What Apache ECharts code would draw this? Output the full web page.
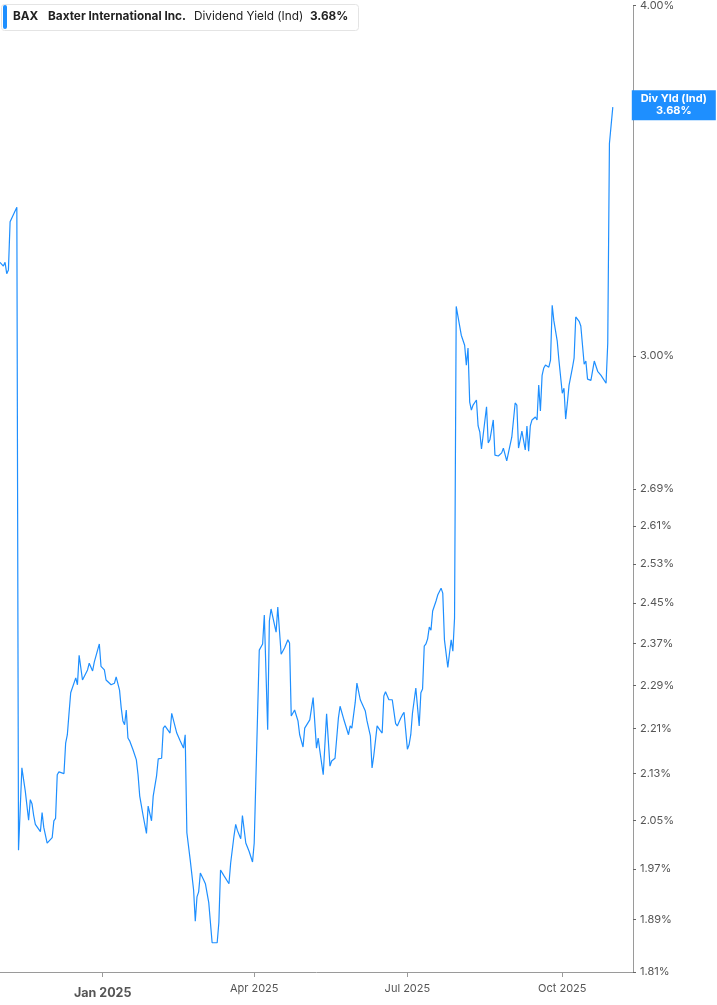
<!DOCTYPE html>
<html>
<head>
<meta charset="utf-8">
<title>BAX Dividend Yield</title>
<script src="https://cdn.jsdelivr.net/npm/echarts@6/dist/echarts.min.js"></script>
<style>
  html, body { margin: 0; padding: 0; background: #fff; }
  #chart { width: 717px; height: 1005px; }
</style>
</head>
<body>
<div id="chart"></div>
<script>
'use strict';

// trading days
const dates = [
  '2024-11-01', '2024-11-03', '2024-11-04', '2024-11-05', '2024-11-06', '2024-11-07', '2024-11-09', '2024-11-11',
  '2024-11-12', '2024-11-14', '2024-11-16', '2024-11-18', '2024-11-19', '2024-11-20', '2024-11-21', '2024-11-22',
  '2024-11-25', '2024-11-26', '2024-11-27', '2024-11-29', '2024-12-02', '2024-12-03', '2024-12-04', '2024-12-05',
  '2024-12-06', '2024-12-09', '2024-12-10', '2024-12-11', '2024-12-12', '2024-12-13', '2024-12-16', '2024-12-17',
  '2024-12-18', '2024-12-19', '2024-12-20', '2024-12-23', '2024-12-24', '2024-12-26', '2024-12-27', '2024-12-30',
  '2024-12-31', '2025-01-02', '2025-01-03', '2025-01-06', '2025-01-08', '2025-01-09', '2025-01-11', '2025-01-12',
  '2025-01-13', '2025-01-14', '2025-01-15', '2025-01-16', '2025-01-17', '2025-01-19', '2025-01-21', '2025-01-22',
  '2025-01-23', '2025-01-24', '2025-01-25', '2025-01-27', '2025-01-28', '2025-01-30', '2025-01-31', '2025-02-02',
  '2025-02-03', '2025-02-05', '2025-02-06', '2025-02-07', '2025-02-10', '2025-02-11', '2025-02-14', '2025-02-16',
  '2025-02-18', '2025-02-19', '2025-02-20', '2025-02-22', '2025-02-24', '2025-02-25', '2025-02-26', '2025-02-27',
  '2025-02-28', '2025-03-02', '2025-03-03', '2025-03-04', '2025-03-05', '2025-03-07', '2025-03-10', '2025-03-11',
  '2025-03-12', '2025-03-14', '2025-03-17', '2025-03-18', '2025-03-20', '2025-03-21', '2025-03-22', '2025-03-24',
  '2025-03-25', '2025-03-27', '2025-03-28', '2025-03-29', '2025-03-31', '2025-04-01', '2025-04-04', '2025-04-06',
  '2025-04-07', '2025-04-09', '2025-04-10', '2025-04-11', '2025-04-14', '2025-04-15', '2025-04-16', '2025-04-17',
  '2025-04-19', '2025-04-21', '2025-04-22', '2025-04-23', '2025-04-25', '2025-04-27', '2025-04-28', '2025-04-30',
  '2025-05-01', '2025-05-02', '2025-05-04', '2025-05-06', '2025-05-08', '2025-05-09', '2025-05-10', '2025-05-12',
  '2025-05-14', '2025-05-16', '2025-05-17', '2025-05-19', '2025-05-21', '2025-05-22', '2025-05-24', '2025-05-27',
  '2025-05-28', '2025-05-29', '2025-05-31', '2025-06-01', '2025-06-03', '2025-06-04', '2025-06-06', '2025-06-07',
  '2025-06-09', '2025-06-10', '2025-06-11', '2025-06-12', '2025-06-13', '2025-06-15', '2025-06-16', '2025-06-17',
  '2025-06-18', '2025-06-20', '2025-06-22', '2025-06-24', '2025-06-25', '2025-06-27', '2025-06-28', '2025-06-29',
  '2025-07-01', '2025-07-02', '2025-07-03', '2025-07-04', '2025-07-06', '2025-07-08', '2025-07-09', '2025-07-10',
  '2025-07-11', '2025-07-12', '2025-07-13', '2025-07-14', '2025-07-15', '2025-07-16', '2025-07-18', '2025-07-19',
  '2025-07-21', '2025-07-22', '2025-07-23', '2025-07-25', '2025-07-26', '2025-07-27', '2025-07-28', '2025-07-29',
  '2025-07-30', '2025-07-31', '2025-08-02', '2025-08-04', '2025-08-05', '2025-08-06', '2025-08-07', '2025-08-08',
  '2025-08-09', '2025-08-11', '2025-08-12', '2025-08-13', '2025-08-14', '2025-08-15', '2025-08-17', '2025-08-18',
  '2025-08-19', '2025-08-21', '2025-08-22', '2025-08-24', '2025-08-26', '2025-08-27', '2025-08-29', '2025-08-30',
  '2025-09-01', '2025-09-03', '2025-09-04', '2025-09-05', '2025-09-06', '2025-09-07', '2025-09-09', '2025-09-10',
  '2025-09-11', '2025-09-12', '2025-09-13', '2025-09-15', '2025-09-16', '2025-09-17', '2025-09-18', '2025-09-19',
  '2025-09-20', '2025-09-21', '2025-09-23', '2025-09-24', '2025-09-25', '2025-09-26', '2025-09-28', '2025-09-29',
  '2025-10-01', '2025-10-02', '2025-10-03', '2025-10-04', '2025-10-05', '2025-10-07', '2025-10-08', '2025-10-09',
  '2025-10-11', '2025-10-12', '2025-10-14', '2025-10-15', '2025-10-16', '2025-10-18', '2025-10-19', '2025-10-20',
  '2025-10-22', '2025-10-24', '2025-10-27', '2025-10-28', '2025-10-29', '2025-10-31'
];

// dividend yield (%)
const yields = [
  3.24, 3.23, 3.24, 3.21, 3.22, 3.35, 3.37, 3.39,
  2.00, 2.14, 2.10, 2.05, 2.085, 2.078, 2.058, 2.043,
  2.031, 2.063, 2.038, 2.012, 2.021, 2.049, 2.053, 2.128,
  2.133, 2.130, 2.184, 2.199, 2.238, 2.276, 2.304, 2.291,
  2.347, 2.346, 2.300, 2.319, 2.332, 2.317, 2.334, 2.369,
  2.326, 2.319, 2.300, 2.291, 2.294, 2.306, 2.281, 2.248,
  2.224, 2.217, 2.244, 2.193, 2.188, 2.172, 2.154, 2.128,
  2.091, 2.088, 2.058, 2.028, 2.074, 2.049, 2.091, 2.126,
  2.156, 2.157, 2.211, 2.215, 2.202, 2.238, 2.202, 2.188,
  2.175, 2.199, 2.029, 1.984, 1.936, 1.887, 1.925, 1.933,
  1.963, 1.952, 1.946, 1.947, 1.916, 1.854, 1.854, 1.885,
  1.968, 1.959, 1.946, 1.979, 2.024, 2.043, 2.033, 2.019,
  2.058, 2.012, 2.009, 1.998, 1.981, 2.012, 2.357, 2.369,
  2.426, 2.208, 2.414, 2.438, 2.392, 2.442, 2.438, 2.349,
  2.361, 2.377, 2.371, 2.233, 2.244, 2.224, 2.199, 2.177,
  2.211, 2.208, 2.226, 2.267, 2.175, 2.193, 2.170, 2.128,
  2.237, 2.143, 2.152, 2.157, 2.229, 2.251, 2.229, 2.199,
  2.215, 2.211, 2.258, 2.294, 2.263, 2.265, 2.242, 2.224,
  2.197, 2.140, 2.161, 2.163, 2.215, 2.206, 2.202, 2.270,
  2.278, 2.263, 2.263, 2.219, 2.215, 2.229, 2.235, 2.240,
  2.173, 2.181, 2.199, 2.238, 2.285, 2.215, 2.276, 2.283,
  2.365, 2.369, 2.379, 2.402, 2.396, 2.434, 2.454, 2.466,
  2.480, 2.470, 2.377, 2.324, 2.351, 2.377, 2.355, 2.420,
  3.125, 3.100, 3.052, 3.027, 2.978, 3.020, 2.889, 2.870,
  2.882, 2.894, 2.833, 2.819, 2.780, 2.812, 2.878, 2.794,
  2.801, 2.847, 2.766, 2.764, 2.771, 2.782, 2.753, 2.771,
  2.807, 2.887, 2.882, 2.782, 2.801, 2.821, 2.778, 2.833,
  2.775, 2.833, 2.847, 2.854, 2.847, 2.930, 2.868, 2.953,
  2.971, 2.978, 2.973, 2.990, 3.128, 3.088, 3.037, 2.990,
  2.910, 2.922, 2.849, 2.887, 2.929, 2.971, 2.995, 3.098,
  3.087, 3.075, 2.980, 2.988, 2.944, 2.941, 2.939, 2.988,
  2.963, 2.953, 2.934, 3.032, 3.572, 3.680
];

// axis ticks and range
const yTicks = [1.81, 1.89, 1.97, 2.05, 2.13, 2.21, 2.29, 2.37, 2.45, 2.53, 2.61, 2.69, 3.00, 4.00];
const xTicks = ['2025-01-01', '2025-04-01', '2025-07-01', '2025-10-01'];
const xRange = ['2024-11-01', '2025-11-12'];
const monthNames = ['Jan', 'Feb', 'Mar', 'Apr', 'May', 'Jun', 'Jul', 'Aug', 'Sep', 'Oct', 'Nov', 'Dec'];

const lineColor = '#1e8fff';
const fontFamily = 'Inter, "Noto Sans", sans-serif';

// date string -> ms, so the x axis can be a plain value axis with custom ticks
const toMs = (s) => new Date(s + 'T00:00:00').getTime();

const chart = echarts.init(document.getElementById('chart'));

const lastValue = yields[yields.length - 1];
const seriesData = dates.map((d, i) => [toMs(d), yields[i]]);
const lastPoint = seriesData[seriesData.length - 1];

const option = {
    animation: false,
    backgroundColor: '#fff',
    grid: {
        left: 0,
        right: 84,
        top: 2,
        bottom: 33
    },
    graphic: [{
        type: 'rect',
        left: 1,
        top: 4,
        shape: { width: 357, height: 26, r: 3 },
        style: { fill: '#fff', stroke: '#e4e4e4', lineWidth: 1 },
        z: 10
    }, {
        type: 'rect',
        left: 3,
        top: 5,
        shape: { width: 4, height: 24, r: 2 },
        style: { fill: lineColor },
        z: 11
    }, {
        type: 'text',
        left: 13,
        top: 10,
        z: 11,
        style: { text: 'BAX', font: 'bold 11.8px ' + fontFamily, fill: '#222' }
    }, {
        type: 'text',
        left: 48,
        top: 10,
        z: 11,
        style: { text: 'Baxter International Inc.', font: 'bold 11.8px ' + fontFamily, fill: '#222' }
    }, {
        type: 'text',
        left: 194,
        top: 10,
        z: 11,
        style: { text: 'Dividend Yield (Ind)', font: '11.8px ' + fontFamily, fill: '#222' }
    }, {
        type: 'text',
        left: 310,
        top: 10,
        z: 11,
        style: { text: lastValue.toFixed(2) + '%', font: 'bold 11.8px ' + fontFamily, fill: '#222' }
    }],
    xAxis: {
        type: 'value',
        min: toMs(xRange[0]),
        max: toMs(xRange[1]),
        axisLine: { show: true, lineStyle: { color: '#9a9a9a', width: 1 } },
        axisTick: {
            show: true,
            customValues: xTicks.map(toMs),
            length: 5,
            lineStyle: { color: '#9a9a9a' }
        },
        axisLabel: {
            customValues: xTicks.map(toMs),
            margin: 11,
            color: '#555',
            fontSize: 11,
            fontFamily: fontFamily,
            formatter: (value) => {
                const dt = new Date(value);
                const txt = monthNames[dt.getMonth()] + ' ' + dt.getFullYear();
                return dt.getMonth() === 0 ? '{b|' + txt + '}' : txt;
            },
            rich: {
                b: { fontWeight: 'bold', fontSize: 12.5, color: '#555', fontFamily: fontFamily, padding: [4, 0, 0, 0] }
            }
        },
        splitLine: { show: false }
    },
    yAxis: {
        type: 'log',
        logBase: 10,
        position: 'right',
        min: 1.81,
        max: 4.0,
        axisLine: { show: true, lineStyle: { color: '#9a9a9a', width: 1 } },
        axisTick: {
            show: true,
            customValues: yTicks,
            length: 3,
            lineStyle: { color: '#666' }
        },
        axisLabel: {
            customValues: yTicks,
            margin: 7,
            color: '#555',
            fontSize: 11,
            fontFamily: fontFamily,
            formatter: (value) => Number(value).toFixed(2) + '%'
        },
        splitLine: { show: false }
    },
    series: [{
        name: 'Dividend Yield (Ind)',
        type: 'line',
        showSymbol: false,
        symbol: 'none',
        lineStyle: { color: lineColor, width: 1.2 },
        data: seriesData,
        markPoint: {
            silent: true,
            symbol: 'rect',
            symbolSize: [84, 30],
            symbolOffset: [61, -2],
            itemStyle: { color: lineColor },
            label: {
                show: true,
                position: 'inside',
                color: '#fff',
                fontWeight: 'bold',
                fontSize: 11,
                lineHeight: 12,
                fontFamily: fontFamily,
                formatter: () => 'Div Yld (Ind)\n' + lastValue.toFixed(2) + '%'
            },
            data: [{ coord: lastPoint }]
        }
    }]
};

chart.setOption(option);
</script>
</body>
</html>
